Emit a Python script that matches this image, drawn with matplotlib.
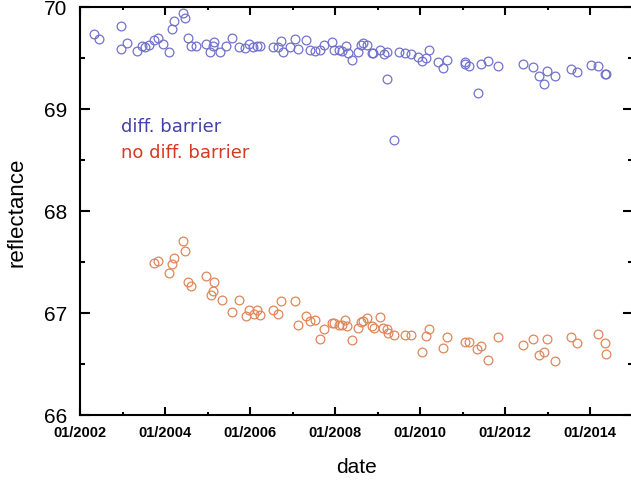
import numpy as np
import matplotlib.pyplot as plt
from matplotlib.ticker import MultipleLocator

# diff. barrier (decimal year, reflectance)
blue_t = [2002.34, 2002.45, 2002.96, 2002.96, 2003.11, 2003.33, 2003.45, 2003.53,
          2003.63, 2003.73, 2003.83, 2003.96, 2004.10, 2004.16, 2004.22, 2004.43,
          2004.48, 2004.53, 2004.61, 2004.72, 2004.96, 2005.06, 2005.12, 2005.16,
          2005.29, 2005.44, 2005.57, 2005.73, 2005.88, 2005.98, 2006.08, 2006.16,
          2006.24, 2006.55, 2006.67, 2006.72, 2006.78, 2006.94, 2007.06, 2007.12,
          2007.32, 2007.41, 2007.53, 2007.65, 2007.75, 2007.94, 2007.98, 2008.10,
          2008.16, 2008.26, 2008.31, 2008.41, 2008.53, 2008.61, 2008.67, 2008.75,
          2008.86, 2008.90, 2009.06, 2009.15, 2009.23, 2009.23, 2009.39, 2009.51,
          2009.65, 2009.79, 2009.95, 2010.04, 2010.14, 2010.22, 2010.43, 2010.53,
          2010.63, 2011.06, 2011.06, 2011.15, 2011.36, 2011.43, 2011.61, 2011.84,
          2012.42, 2012.65, 2012.81, 2012.92, 2012.98, 2013.18, 2013.55, 2013.69,
          2014.02, 2014.18, 2014.35, 2014.37]
blue_r = [69.74, 69.69, 69.81, 69.59, 69.65, 69.57, 69.62, 69.61,
          69.63, 69.68, 69.70, 69.64, 69.56, 69.78, 69.86, 69.94,
          69.89, 69.70, 69.62, 69.62, 69.64, 69.56, 69.62, 69.66,
          69.56, 69.62, 69.70, 69.61, 69.60, 69.64, 69.61, 69.62,
          69.62, 69.61, 69.61, 69.67, 69.56, 69.61, 69.69, 69.59,
          69.68, 69.58, 69.57, 69.58, 69.63, 69.66, 69.58, 69.58,
          69.57, 69.62, 69.55, 69.48, 69.56, 69.63, 69.65, 69.63,
          69.55, 69.55, 69.58, 69.54, 69.56, 69.29, 68.70, 69.56,
          69.55, 69.54, 69.51, 69.47, 69.50, 69.58, 69.46, 69.40,
          69.48, 69.46, 69.44, 69.42, 69.16, 69.44, 69.47, 69.42,
          69.44, 69.41, 69.32, 69.25, 69.37, 69.32, 69.39, 69.36,
          69.43, 69.42, 69.34, 69.34]

# no diff. barrier
red_t = [2003.73, 2003.83, 2004.10, 2004.17, 2004.21, 2004.43, 2004.48, 2004.55,
         2004.61, 2004.97, 2005.08, 2005.12, 2005.15, 2005.33, 2005.58, 2005.73,
         2005.90, 2005.98, 2006.09, 2006.17, 2006.24, 2006.55, 2006.67, 2006.72,
         2007.06, 2007.12, 2007.32, 2007.40, 2007.53, 2007.65, 2007.74, 2007.92,
         2007.98, 2008.10, 2008.16, 2008.24, 2008.29, 2008.41, 2008.53, 2008.61,
         2008.67, 2008.75, 2008.88, 2008.92, 2009.06, 2009.14, 2009.23, 2009.24,
         2009.39, 2009.65, 2009.79, 2010.04, 2010.14, 2010.22, 2010.53, 2010.63,
         2011.06, 2011.15, 2011.33, 2011.43, 2011.61, 2011.84, 2012.42, 2012.65,
         2012.81, 2012.92, 2012.98, 2013.18, 2013.55, 2013.69, 2014.18, 2014.35,
         2014.37]
red_r = [67.49, 67.51, 67.39, 67.48, 67.54, 67.71, 67.61, 67.30,
         67.26, 67.36, 67.18, 67.22, 67.30, 67.13, 67.01, 67.13,
         66.97, 67.03, 66.99, 67.03, 66.98, 67.03, 66.99, 67.12,
         67.12, 66.88, 66.97, 66.92, 66.93, 66.75, 66.84, 66.90,
         66.90, 66.88, 66.88, 66.93, 66.87, 66.74, 66.85, 66.91,
         66.92, 66.95, 66.87, 66.85, 66.96, 66.85, 66.84, 66.80,
         66.78, 66.78, 66.78, 66.62, 66.77, 66.84, 66.66, 66.76,
         66.72, 66.72, 66.65, 66.68, 66.54, 66.76, 66.69, 66.75,
         66.59, 66.62, 66.75, 66.53, 66.76, 66.71, 66.79, 66.71,
         66.60]

xtick_pos = [2002, 2004, 2006, 2008, 2010, 2012, 2014]
xtick_labels = ['01/2002', '01/2004', '01/2006', '01/2008', '01/2010', '01/2012', '01/2014']

plt.rcParams['font.family'] = ['Liberation Sans', 'DejaVu Sans']

fig = plt.figure(figsize=(6.31, 4.81), dpi=100)
ax = fig.add_axes([80 / 631, 65 / 481, 552.5 / 631, 408 / 481])

ax.plot(blue_t, blue_r, 'o', mfc='none', mec='#7272cc', ms=6.3, mew=0.9, ls='none')
ax.plot(red_t, red_r, 'o', mfc='none', mec='#e0865a', ms=6.3, mew=0.9, ls='none')

ax.set_xlim(2002, 2015)
ax.set_ylim(66, 70)

ax.set_xticks(xtick_pos)
ax.set_xticklabels(xtick_labels, fontsize=10.5, fontweight='bold')
ax.xaxis.set_minor_locator(MultipleLocator(1))
ax.yaxis.set_major_locator(MultipleLocator(1))
ax.yaxis.set_minor_locator(MultipleLocator(0.5))

ax.tick_params(which='both', direction='in', top=True, right=True, width=1.5)
ax.tick_params(axis='x', which='major', length=5.5, pad=7)
ax.tick_params(axis='x', which='minor', length=2.5)
ax.tick_params(axis='y', which='major', length=7.5, pad=9, labelsize=15)
ax.tick_params(axis='y', which='minor', length=3.5)
for s in ax.spines.values():
    s.set_linewidth(1.5)

ax.set_xlabel('date', fontsize=15, labelpad=13)
ax.set_ylabel('reflectance', fontsize=16, labelpad=12)

ax.text(2002.96, 68.83, 'diff. barrier', color='#4242a8', fontsize=13,
        family='DejaVu Sans', va='center')
ax.text(2002.96, 68.58, 'no diff. barrier', color='#d43a22', fontsize=13,
        family='DejaVu Sans', va='center')

fig.savefig('out.png', dpi=100)
